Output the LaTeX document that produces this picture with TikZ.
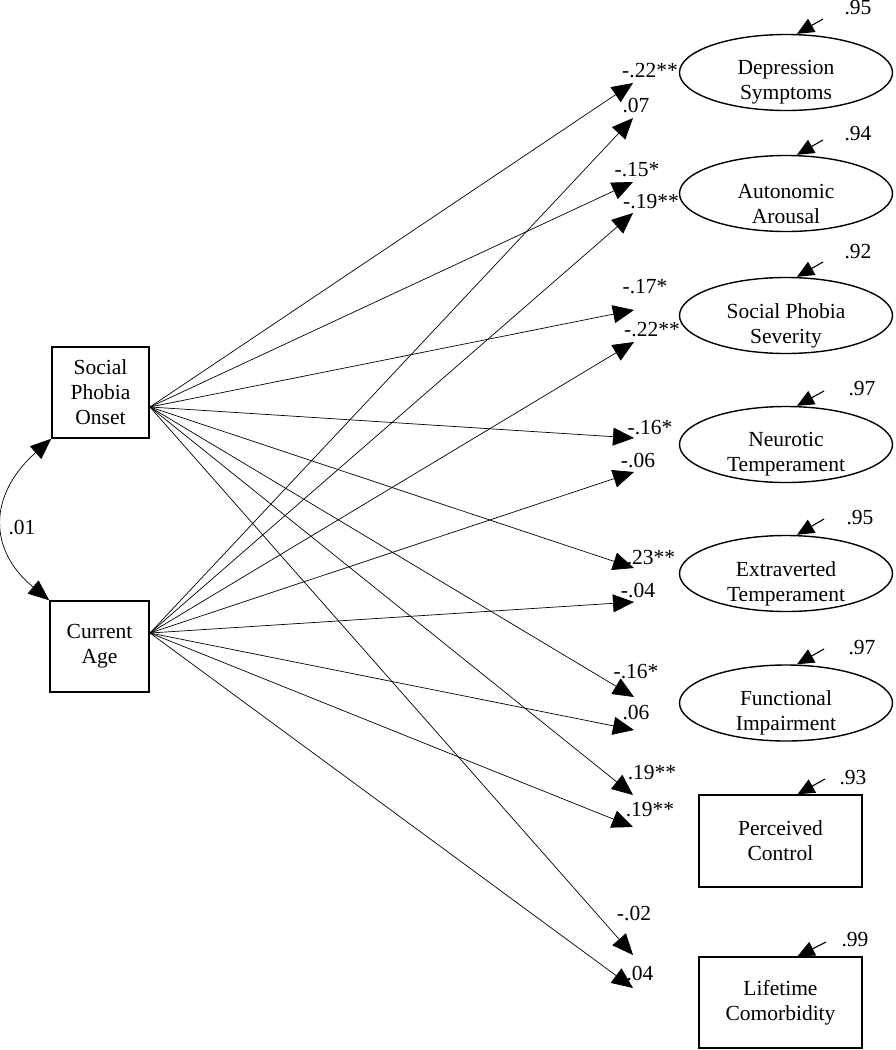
\documentclass[tikz,border=0pt]{standalone}
\usepackage{fontspec}
\setmainfont{Liberation Serif}
\usetikzlibrary{arrows.meta,shapes.geometric}
\begin{document}
\begin{tikzpicture}[x=1pt,y=-1pt,
 txt/.style={font=\fontsize{21.5}{25}\selectfont, align=center, inner sep=0pt},
 lat/.style={draw, ellipse, line width=1.4pt, minimum width=213pt, minimum height=76pt, inner sep=0pt},
 obs/.style={draw, rectangle, line width=1.4pt, inner sep=0pt},
 lbl/.style={font=\fontsize{21.5}{25}\selectfont, inner sep=0pt},
 pth/.style={line width=0.7pt, -{Triangle[length=21pt,width=18pt]}},
 err/.style={line width=1.1pt, -{Triangle[length=17pt,width=15pt]}},
]
\useasboundingbox (0,0) rectangle (895,1050);

% exogenous boxes
\node[obs, minimum width=97pt, minimum height=91pt] (spo) at (100.5,392.5) {};
\node[txt] (spoT) at (spo.center) {Social\\Phobia\\Onset};
\node[obs, minimum width=99pt, minimum height=91pt] (ca) at (99.5,646.5) {};
\node[txt] (caT) at (ca.center) {Current\\Age};

% outcomes
\node[lat] (dep) at (786,72.5) {};
\node[txt] (depT) at ([yshift=-10pt]dep.center) {Depression\\Symptoms};
\node[lat] (aut) at (786,193.5) {};
\node[txt] (autT) at ([yshift=-10pt]aut.center) {Autonomic\\Arousal};
\node[lat] (sps) at (786,315.5) {};
\node[txt] (spsT) at ([yshift=-10pt]sps.center) {Social Phobia\\Severity};
\node[lat] (neu) at (786,444.5) {};
\node[txt] (neuT) at ([yshift=-10pt]neu.center) {Neurotic\\Temperament};
\node[lat] (ext) at (786,573.5) {};
\node[txt] (extT) at ([yshift=-10pt]ext.center) {Extraverted\\Temperament};
\node[lat] (fun) at (786,703) {};
\node[txt] (funT) at ([yshift=-10pt]fun.center) {Functional\\Impairment};
\node[obs, minimum width=163pt, minimum height=92pt] (per) at (780.5,841) {};
\node[txt] (perT) at (per.center) {Perceived\\Control};
\node[obs, minimum width=163pt, minimum height=91pt] (lif) at (780.5,1002.5) {};
\node[txt] (lifT) at (lif.center) {Lifetime\\Comorbidity};

% covariance
\draw[line width=0.7pt, {Triangle[length=21pt,width=17pt]}-{Triangle[length=21pt,width=17pt]}]
  (spo.south west) .. controls (-12,495) and (-12,550) .. (ca.north west);
\node[lbl] (cov) at (22,527) {.01};

% sources
\coordinate (s1) at (150,407);
\coordinate (s2) at (150,633);

% tips from onset
\coordinate (a1) at (633,83);
\coordinate (a2) at (633,182);
\coordinate (a3) at (634,310);
\coordinate (a4) at (634,438);
\coordinate (a5) at (634,568);
\coordinate (a6) at (634,697);
\coordinate (a7) at (633,795);
\coordinate (a8) at (633,955);
% tips from age
\coordinate (b1) at (633,118);
\coordinate (b2) at (633,213);
\coordinate (b3) at (634,342);
\coordinate (b4) at (634,472);
\coordinate (b5) at (634,602);
\coordinate (b6) at (634,730);
\coordinate (b7) at (633,827);
\coordinate (b8) at (633,988);

\foreach \i in {1,...,8} {
  \draw[pth] (s1) -- (a\i);
  \draw[pth] (s2) -- (b\i);
}

% path labels
\node[lbl] (la1) at (650,71) {-.22**};
\node[lbl] (la2) at (637,170) {-.15*};
\node[lbl] (la3) at (645,287) {-.17*};
\node[lbl] (la4) at (650,428) {-.16*};
\node[lbl] (la5) at (651,558) {.23**};
\node[lbl] (la6) at (636,672) {-.16*};
\node[lbl] (la7) at (652,773) {.19**};
\node[lbl] (la8) at (634,913) {-.02};
\node[lbl] (lb1) at (636,105) {.07};
\node[lbl] (lb2) at (651,202) {-.19**};
\node[lbl] (lb3) at (652,330) {-.22**};
\node[lbl] (lb4) at (638,460) {-.06};
\node[lbl] (lb5) at (638,590) {-.04};
\node[lbl] (lb6) at (636,712) {.06};
\node[lbl] (lb7) at (650,810) {.19**};
\node[lbl] (lb8) at (640,973) {.04};

% error terms
\coordinate (e1) at (823,19);
\coordinate (e2) at (823,140);
\coordinate (e3) at (823,262);
\coordinate (e4) at (824,391);
\coordinate (e5) at (824,519);
\coordinate (e6) at (824,649);
\coordinate (e7) at (825,779);
\coordinate (e8) at (826,942);
\draw[err] (e1) -- ([xshift=11pt]dep.north);
\draw[err] (e2) -- ([xshift=11pt]aut.north);
\draw[err] (e3) -- ([xshift=11pt]sps.north);
\draw[err] (e4) -- ([xshift=11pt]neu.north);
\draw[err] (e5) -- ([xshift=11pt]ext.north);
\draw[err] (e6) -- ([xshift=11pt]fun.north);
\draw[err] (e7) -- ([xshift=17pt]per.north);
\draw[err] (e8) -- ([xshift=17pt]lif.north);
\node[lbl] (r1) at (858,8) {.95};
\node[lbl] (r2) at (858,134) {.94};
\node[lbl] (r3) at (858,252) {.92};
\node[lbl] (r4) at (862,389) {.97};
\node[lbl] (r5) at (860,518) {.95};
\node[lbl] (r6) at (862,648) {.97};
\node[lbl] (r7) at (853,778) {.93};
\node[lbl] (r8) at (855,940) {.99};
\end{tikzpicture}
\end{document}
